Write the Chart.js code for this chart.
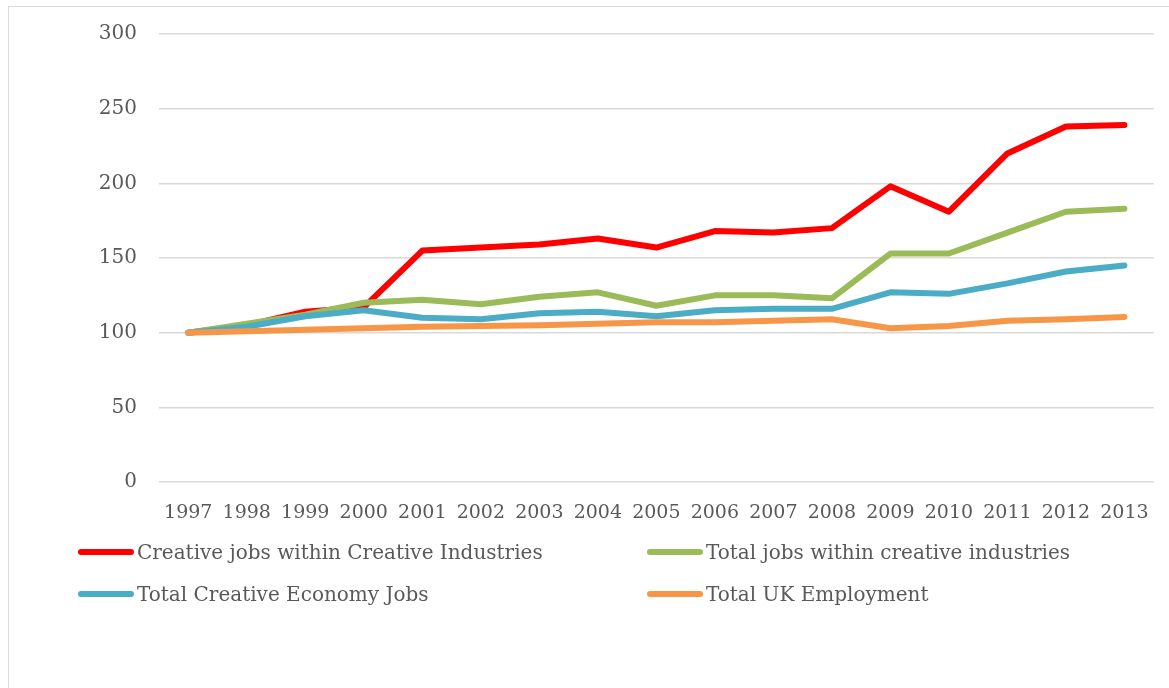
<!DOCTYPE html>
<html>
<head>
<meta charset="utf-8">
<script src="https://cdn.jsdelivr.net/npm/chart.js@4/dist/chart.umd.min.js"></script>
<style>
  body { margin: 0; background: #fff; width: 1169px; height: 688px; overflow: hidden; position: relative; font-family: "DejaVu Serif", serif; }
  #frame { position: absolute; left: 8px; top: 6px; width: 1300px; height: 800px; border: 1px solid #d9d9d9; }
  #wrap { position: absolute; left: 0; top: 0; width: 1169px; height: 540px; }
  #legend { position: absolute; left: 0; top: 0; width: 1169px; height: 688px; pointer-events: none; }
  .item { position: absolute; display: flex; align-items: center; color: #595959; font-size: 20px; white-space: nowrap; }
  .item span.mark { display: inline-block; width: 56px; height: 6px; border-radius: 3px; margin-right: 3px; }
</style>
</head>
<body>
<div id="frame"></div>
<div id="wrap"><canvas id="chart"></canvas></div>
<div id="legend"></div>
<script>
const years = ['1997','1998','1999','2000','2001','2002','2003','2004','2005','2006','2007','2008','2009','2010','2011','2012','2013'];

const creativeJobsCI  = [100, 105, 114, 117, 155, 157, 159, 163, 157, 168, 167, 170, 198, 181, 220, 238, 239];
const totalJobsCI     = [100, 106, 112, 120, 122, 119, 124, 127, 118, 125, 125, 123, 153, 153, 167, 181, 183];
const creativeEconomy = [100, 104, 111, 115, 110, 109, 113, 114, 111, 115, 116, 116, 127, 126, 133, 141, 145];
const ukEmployment    = [100, 101, 102, 103, 104, 104.5, 105, 106, 107, 107, 108, 109, 103, 104.5, 108, 109, 110.5];

const grey = '#595959';
const fontFamily = '"DejaVu Serif", serif';

function series(label, data, color, order) {
    return {
        label: label, data: data, borderColor: color, backgroundColor: color,
        borderWidth: 6, borderCapStyle: 'round', borderJoinStyle: 'round',
        pointRadius: 0, tension: 0, fill: false, order: order
    };
}

const chart = new Chart(document.getElementById('chart').getContext('2d'), {
    type: 'line',
    data: {
        labels: years,
        datasets: [
            series('Creative jobs within Creative Industries', creativeJobsCI, '#ff0000', 4),
            series('Total jobs within creative industries', totalJobsCI, '#9bbb59', 3),
            series('Total Creative Economy Jobs', creativeEconomy, '#4bacc6', 2),
            series('Total UK Employment', ukEmployment, '#f79646', 1)
        ]
    },
    options: {
        animation: false,
        responsive: true,
        maintainAspectRatio: false,
        layout: { padding: { top: 32, right: 14, left: 0, bottom: 0 } },
        plugins: { legend: { display: false }, tooltip: { enabled: false } },
        scales: {
            x: {
                offset: true,
                grid: { display: false, drawTicks: false },
                border: { display: false },
                ticks: { color: grey, font: { family: fontFamily, size: 19 }, padding: 20, maxRotation: 0, autoSkip: false },
                afterFit: s => { s.height = 58; }
            },
            y: {
                min: 0, max: 300,
                grid: { color: '#d9d9d9', lineWidth: 1.5, drawTicks: false },
                border: { display: false },
                ticks: { stepSize: 50, color: grey, font: { family: fontFamily, size: 20 }, padding: 22 },
                afterFit: s => { s.width = 159; }
            }
        }
    }
});

// two-column legend below the plot, built from the datasets
const legendPos = [[78, 553], [647, 553], [78, 595], [647, 595]];
const legendEl = document.getElementById('legend');
chart.data.datasets.forEach((ds, i) => {
    const item = document.createElement('div');
    item.className = 'item';
    item.style.left = legendPos[i][0] + 'px';
    item.style.top = (legendPos[i][1] - 13) + 'px';
    const mark = document.createElement('span');
    mark.className = 'mark';
    mark.style.background = ds.borderColor;
    item.appendChild(mark);
    item.appendChild(document.createTextNode(ds.label));
    legendEl.appendChild(item);
});
</script>
</body>
</html>
